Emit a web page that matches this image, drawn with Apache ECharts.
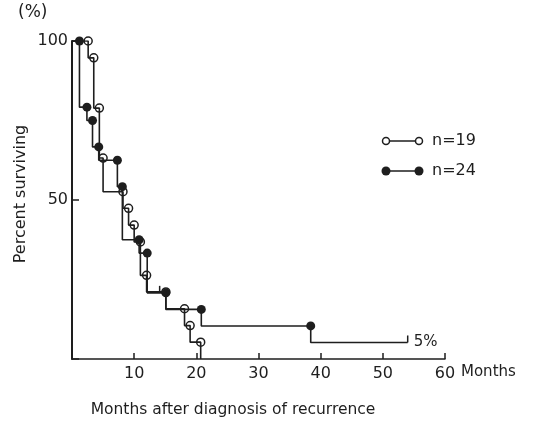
<!DOCTYPE html>
<html>
<head>
<meta charset="utf-8">
<script src="https://cdn.jsdelivr.net/npm/echarts@6/dist/echarts.min.js"></script>
<style>
html, body { margin: 0; background: #fff; }
#main { width: 539px; height: 428px; }
</style>
</head>
<body>
<div id="main"></div>
<script>
// months at each death, and survival (%) just after it
var openTimes = [2.6, 3.5, 4.4, 5.0, 8.2, 9.1, 10.0, 11.0, 12.0, 15.1, 18.1, 19.0, 20.7]
var openLevels = [94.7, 78.9, 63.2, 52.6, 47.4, 42.1, 36.8, 26.3, 21.1, 15.8, 10.5, 5.3, 0]
var filledTimes = [1.2, 2.4, 3.3, 4.3, 7.3, 8.1, 10.8, 12.1, 15.1, 20.8, 38.4]
var filledLevels = [79.2, 75.0, 66.7, 62.5, 54.2, 37.5, 33.3, 20.8, 15.6, 10.4, 5.2]
var filledLastFollowUp = 54
var filledCensored = [[14.1, 20.8], [54, 5.2]]
var xMax = 60
var xStep = 10
var yStep = 50

var ink = '#1e1e1e'
var font = 'DejaVu Sans'

function stepData(times, levels, last) {
  var pts = [[0, 100]]
  for (var i = 0; i < times.length; i++) {
    pts.push([times[i], levels[i]])
  }
  if (last) pts.push([last, levels[levels.length - 1]])
  return pts
}

// circle sits on the corner just before each drop
function eventMarks(times, levels) {
  return times.map(function (t, i) {
    return [t, i === 0 ? 100 : levels[i - 1]]
  })
}

var myChart = echarts.init(document.getElementById('main'))
myChart.setOption({
  animation: false,
  backgroundColor: '#fff',
  grid: { left: 72, right: 94, top: 41, bottom: 69 },
  xAxis: {
    type: 'value',
    min: 0,
    max: xMax,
    interval: xStep,
    splitLine: { show: false },
    axisLine: { lineStyle: { color: ink, width: 1.5 } },
    axisTick: { show: true, inside: true, length: 6, lineStyle: { color: ink, width: 1.5 } },
    axisLabel: {
      margin: 7,
      color: ink,
      fontFamily: font,
      fontSize: 16,
      formatter: function (v) { return v === 0 ? '' : v }
    }
  },
  yAxis: {
    type: 'value',
    min: 0,
    max: 100,
    interval: yStep,
    splitLine: { show: false },
    axisLine: { show: true, lineStyle: { color: ink, width: 2 } },
    axisTick: { show: true, inside: true, length: 7, lineStyle: { color: ink, width: 1.5 } },
    axisLabel: {
      margin: 4,
      color: ink,
      fontFamily: font,
      fontSize: 16,
      formatter: function (v) { return v === 0 ? '' : v }
    }
  },
  graphic: [
    { type: 'text', left: 18, top: 4, style: { text: '(%)', font: '17px ' + font, fill: ink } },
    {
      type: 'text', x: 21, y: 194, rotation: Math.PI / 2,
      style: { text: 'Percent surviving', font: '16px ' + font, fill: ink, align: 'center', verticalAlign: 'middle' }
    },
    { type: 'text', x: 461, y: 372, style: { text: 'Months', font: '15px ' + font, fill: ink, verticalAlign: 'middle' } },
    {
      type: 'text', x: 233, y: 410,
      style: { text: 'Months after diagnosis of recurrence', font: '15.5px ' + font, fill: ink, align: 'center', verticalAlign: 'middle' }
    },
    // legend
    { type: 'line', shape: { x1: 386, y1: 141, x2: 419, y2: 141 }, style: { stroke: ink, lineWidth: 1.6 } },
    { type: 'circle', shape: { cx: 386, cy: 141, r: 3.5 }, style: { fill: '#fff', stroke: ink, lineWidth: 1.5 } },
    { type: 'circle', shape: { cx: 419, cy: 141, r: 3.5 }, style: { fill: '#fff', stroke: ink, lineWidth: 1.5 } },
    { type: 'text', x: 432, y: 141, style: { text: 'n=19', font: '16px ' + font, fill: ink, verticalAlign: 'middle' } },
    { type: 'line', shape: { x1: 386, y1: 171, x2: 419, y2: 171 }, style: { stroke: ink, lineWidth: 1.6 } },
    { type: 'circle', shape: { cx: 386, cy: 171, r: 4.5 }, style: { fill: ink } },
    { type: 'circle', shape: { cx: 419, cy: 171, r: 4.5 }, style: { fill: ink } },
    { type: 'text', x: 432, y: 171, style: { text: 'n=24', font: '16px ' + font, fill: ink, verticalAlign: 'middle' } }
  ],
  series: [
    {
      name: 'n=19',
      type: 'line',
      step: 'end',
      showSymbol: false,
      lineStyle: { color: ink, width: 1.6 },
      data: stepData(openTimes, openLevels)
    },
    {
      name: 'n=24',
      type: 'line',
      step: 'end',
      showSymbol: false,
      lineStyle: { color: ink, width: 1.6 },
      endLabel: {
        show: true,
        formatter: '5%',
        distance: 6,
        color: ink,
        fontFamily: font,
        fontSize: 15
      },
      data: stepData(filledTimes, filledLevels, filledLastFollowUp)
    },
    {
      type: 'scatter',
      symbol: 'rect',
      symbolSize: [1.5, 7],
      symbolOffset: [0, -3.5],
      itemStyle: { color: ink, opacity: 1 },
      data: filledCensored
    },
    {
      type: 'scatter',
      symbol: 'circle',
      symbolSize: 8,
      itemStyle: { color: '#fff', borderColor: ink, borderWidth: 1.5, opacity: 1 },
      data: eventMarks(openTimes, openLevels)
    },
    {
      type: 'scatter',
      symbol: 'circle',
      symbolSize: 9,
      itemStyle: { color: ink, opacity: 1 },
      data: eventMarks(filledTimes, filledLevels)
    }
  ]
})
</script>
</body>
</html>
